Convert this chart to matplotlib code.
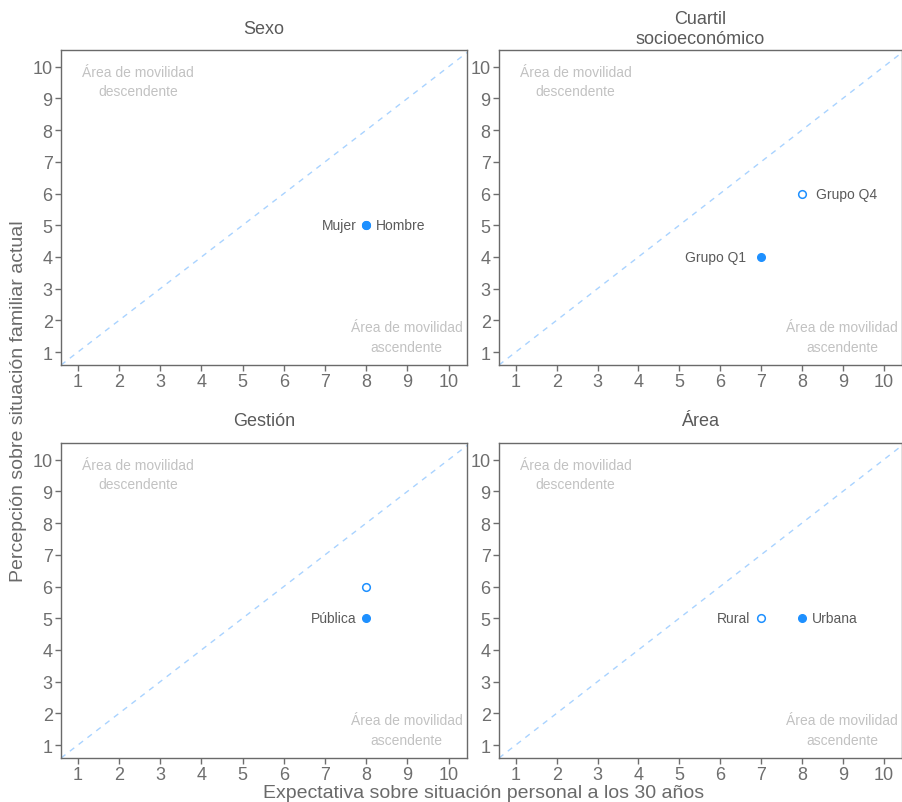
import matplotlib
matplotlib.use("Agg")
import matplotlib.pyplot as plt

plt.rcParams['font.family'] = ['Liberation Sans', 'DejaVu Sans']

titles = ["Sexo", "Cuartil\nsocioeconómico", "Gestión", "Área"]
# per panel: (label, expectativa x, percepcion y, filled, label side)
sexo_labels = ["Hombre", "Mujer"]
sexo_x = [8, 8]
sexo_y = [5, 5]
sexo_filled = [False, True]
sexo_side = ["right", "left"]

cuartil_labels = ["Grupo Q4", "Grupo Q1"]
cuartil_x = [8, 7]
cuartil_y = [6, 4]
cuartil_filled = [False, True]
cuartil_side = ["right", "left"]

gestion_labels = ["", "Pública"]
gestion_x = [8, 8]
gestion_y = [6, 5]
gestion_filled = [False, True]
gestion_side = ["right", "left"]

area_labels = ["Rural", "Urbana"]
area_x = [7, 8]
area_y = [5, 5]
area_filled = [False, True]
area_side = ["left", "right"]

panels = [
    (sexo_labels, sexo_x, sexo_y, sexo_filled, sexo_side),
    (cuartil_labels, cuartil_x, cuartil_y, cuartil_filled, cuartil_side),
    (gestion_labels, gestion_x, gestion_y, gestion_filled, gestion_side),
    (area_labels, area_x, area_y, area_filled, area_side),
]
label_offsets = [7, 10.5, 7, 7.5]

ticks = list(range(1, 11))
lo, hi = 0.59, 10.45
ylo, yhi = 0.59, 10.53

fig = plt.figure(figsize=(9.03, 8.03), dpi=100)
positions = [
    (0.0676, 0.5442, 0.4496, 0.3923),
    (0.5526, 0.5442, 0.4463, 0.3923),
    (0.0676, 0.0548, 0.4496, 0.3923),
    (0.5526, 0.0548, 0.4463, 0.3923),
]
title_y = [1.068, 1.068, 1.072, 1.072]
blue = "#1E90FF"
grey = "#5a5a5a"
for i, (pos, title, data) in enumerate(zip(positions, titles, panels)):
    ax = fig.add_axes(pos)
    labels, xs, ys, filled, side = data
    off = label_offsets[i]
    ax.plot([lo, hi], [lo, hi], ls=(0, (4, 4)), color="#a9d3ff", lw=1, zorder=1)
    for lab, x, y, f, s in zip(labels, xs, ys, filled, side):
        if f:
            ax.plot(x, y, 'o', ms=5.5, color=blue, mec=blue, zorder=3)
        else:
            ax.plot(x, y, 'o', ms=5.5, mfc="white", mec=blue, mew=1.1, zorder=2)
        if lab:
            if s == "right":
                ax.annotate(lab, (x, y), xytext=(off, 0), textcoords="offset points",
                            ha="left", va="center", fontsize=10, color=grey)
            else:
                ax.annotate(lab, (x, y), xytext=(-off, 0), textcoords="offset points",
                            ha="right", va="center", fontsize=10, color=grey)
    ax.text(2.46, 9.53, "Área de movilidad\ndescendente", ha="center", va="center",
            fontsize=10, color="#c2c2c2", linespacing=1.5)
    ax.text(8.98, 1.47, "Área de movilidad\nascendente", ha="center", va="center",
            fontsize=10, color="#c2c2c2", linespacing=1.5)
    ax.set_xlim(lo, hi)
    ax.set_ylim(ylo, yhi)
    ax.set_xticks(ticks)
    ax.set_yticks(ticks)
    ax.tick_params(labelsize=13, colors="#6e6e6e", length=4, width=1, pad=2)
    for sp in ax.spines.values():
        sp.set_color("#6a6a6a")
        sp.set_linewidth(1)
    ax.text(0.5, title_y[i], title, transform=ax.transAxes, ha="center", va="center",
            fontsize=13, color=grey, linespacing=1.25)

fig.text(0.021, 0.5, "Percepción sobre situación familiar actual", rotation=90,
         ha="center", va="center", fontsize=14, color="#6a6a6a")
fig.text(0.535, 0.012, "Expectativa sobre situación personal a los 30 años",
         ha="center", va="center", fontsize=14, color="#6a6a6a")

fig.savefig("out.png", dpi=100)
